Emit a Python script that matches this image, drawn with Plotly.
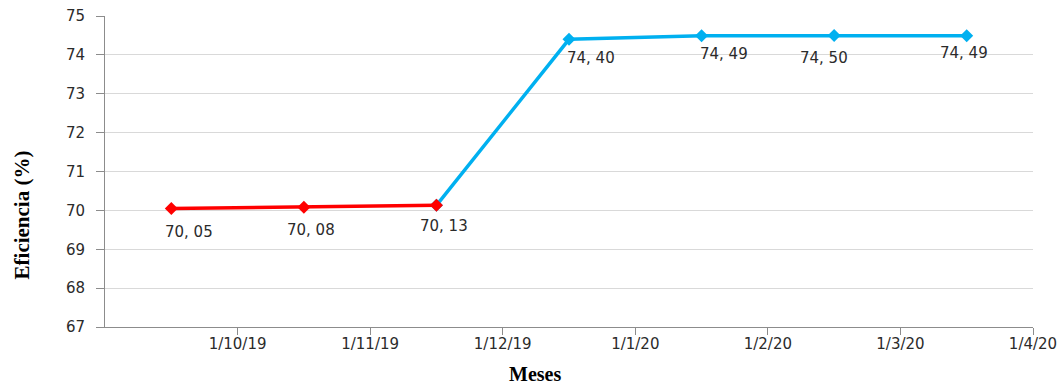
import plotly.graph_objects as go

# Month index 0 = 1/9/19; points sit mid-month
tick_labels = ["1/10/19", "1/11/19", "1/12/19", "1/1/20", "1/2/20", "1/3/20", "1/4/20"]
months = [0.5, 1.5, 2.5, 3.5, 4.5, 5.5, 6.5]
eficiencia = [70.05, 70.08, 70.13, 74.40, 74.49, 74.50, 74.49]
labels = ["70, 05", "70, 08", "70, 13", "74, 40", "74, 49", "74, 50", "74, 49"]

# label nudges (pixels) relative to each marker
label_dx = [18, 7, 8, 22, 22, -10, -3]
label_dy = [-24, -23, -21, -19, -18, -23, -17]

RED = "#FF0000"
BLUE = "#00B0F0"
TEXT = "#2B2B2B"
AXIS = "#8C8C8C"

fig = go.Figure()

fig.add_trace(go.Scatter(
    x=months[2:], y=eficiencia[2:], mode="lines+markers",
    line=dict(color=BLUE, width=3.5),
    marker=dict(symbol="diamond", size=10, color=BLUE),
    hoverinfo="skip", showlegend=False,
))
fig.add_trace(go.Scatter(
    x=months[:3], y=eficiencia[:3], mode="lines+markers",
    line=dict(color=RED, width=3.5),
    marker=dict(symbol="diamond", size=10, color=RED),
    hoverinfo="skip", showlegend=False,
))

for xv, yv, txt, dx, dy in zip(months, eficiencia, labels, label_dx, label_dy):
    fig.add_annotation(
        x=xv, y=yv, text=txt, showarrow=False,
        xshift=dx, yshift=dy,
        font=dict(family="DejaVu Sans", size=15, color=TEXT),
    )

fig.add_annotation(
    text="<b>Eficiencia (%)</b>", xref="paper", yref="paper",
    x=-0.089, y=0.36, textangle=-90, showarrow=False, xanchor="center", yanchor="middle",
    font=dict(family="Liberation Serif", size=21, color="#000000"),
)
fig.add_annotation(
    text="<b>Meses</b>", xref="paper", yref="paper",
    x=0.463, y=-0.15, showarrow=False, xanchor="center", yanchor="middle",
    font=dict(family="Liberation Serif", size=20, color="#000000"),
)

fig.update_layout(
    width=1057, height=385,
    margin=dict(l=105, r=24, t=16, b=58),
    paper_bgcolor="white", plot_bgcolor="white",
    xaxis=dict(
        range=[0, 7], tickmode="array", tickvals=list(range(1, 8)), ticktext=tick_labels,
        showgrid=False, zeroline=False, showline=True, linecolor=AXIS, linewidth=1,
        ticks="outside", ticklen=7, tickcolor=AXIS, ticklabelstandoff=-4,
        ticklabeloverflow="allow",
        tickfont=dict(family="DejaVu Sans", size=15, color=TEXT),
        automargin=False, fixedrange=True,
    ),
    yaxis=dict(
        range=[67, 75], dtick=1, tick0=67,
        showgrid=True, gridcolor="#D9D9D9", gridwidth=1, zeroline=False,
        showline=True, linecolor=AXIS, linewidth=1,
        ticks="outside", ticklen=8, tickcolor=AXIS, ticklabelstandoff=8,
        tickfont=dict(family="DejaVu Sans", size=15, color=TEXT),
        automargin=False, fixedrange=True,
    ),
)

fig.write_html("out.html")
